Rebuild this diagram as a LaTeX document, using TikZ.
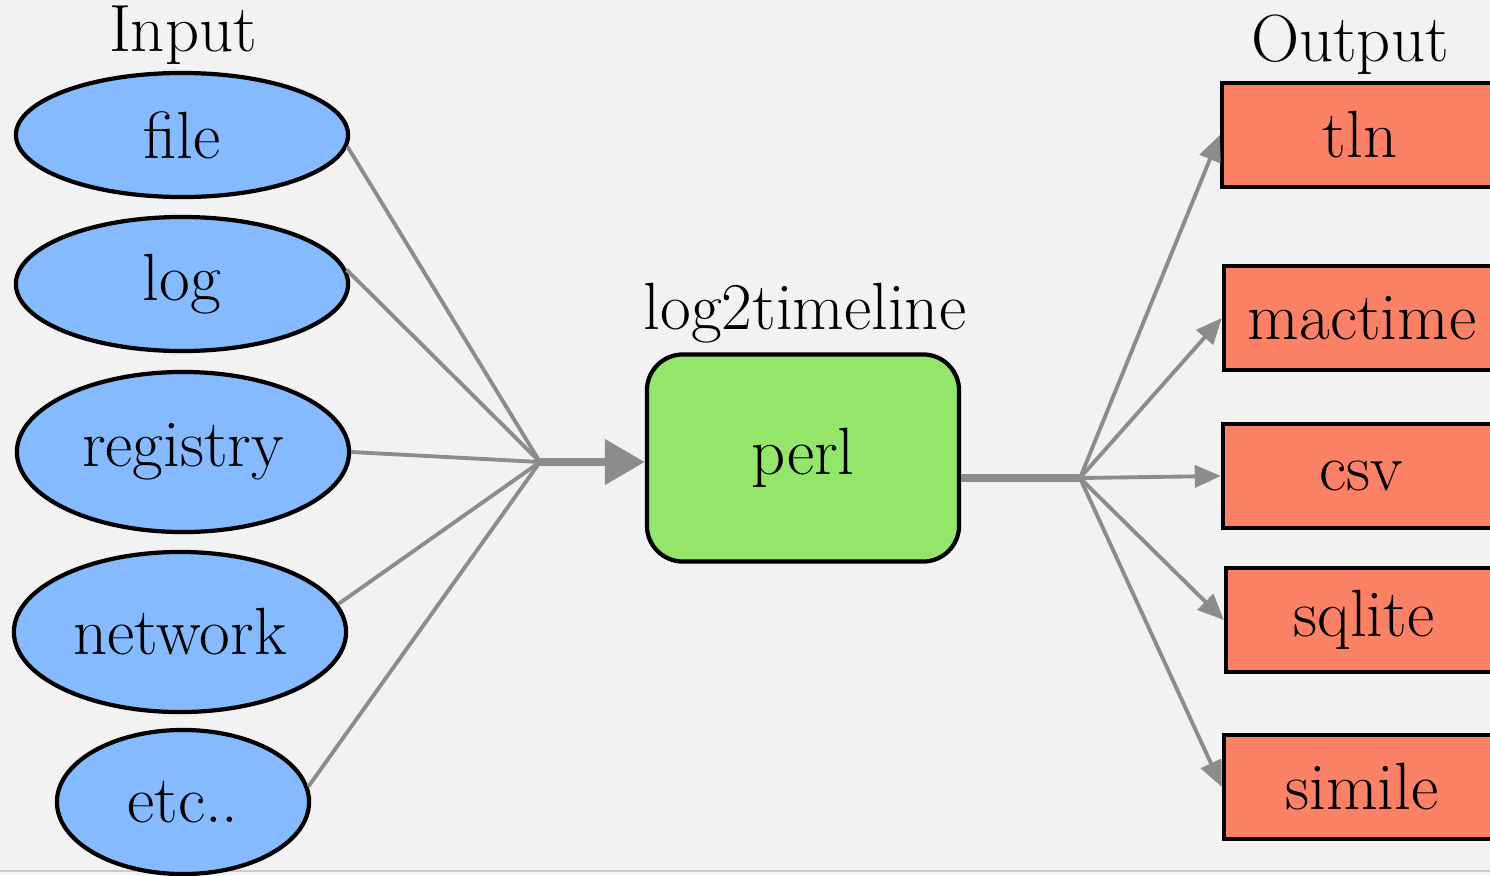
\documentclass[tikz,border=0pt]{standalone}
\usetikzlibrary{shapes.geometric,arrows.meta}
\definecolor{inblue}{RGB}{133,186,255}
\definecolor{outred}{RGB}{250,128,102}
\definecolor{perlgreen}{RGB}{148,230,107}
\definecolor{linegray}{RGB}{140,140,140}
\definecolor{backgray}{RGB}{242,242,242}

\begin{document}
\begin{tikzpicture}[x=0.01cm,y=-0.01cm]
	\tikzstyle{every node}=[font=\fontsize{19}{21}\selectfont]
	\tikzstyle{source}=[ellipse, draw=black, line width=1.2pt, fill=inblue, inner sep=0pt]
	\tikzstyle{target}=[rectangle, draw=black, line width=1.2pt, fill=outred, inner sep=0pt, minimum width=2.76cm, minimum height=1.04cm]
	\tikzstyle{feed}=[draw=linegray, line width=1.1pt]
	\tikzstyle{fan}=[draw=linegray, line width=1.1pt, -{Triangle[length=0.26cm,width=0.22cm]}]
	
	\fill [backgray] (0,0) rectangle (1490,875);
	\useasboundingbox (0,0) rectangle (1490,875);
	\clip (0,0) rectangle (1490,875);
	\draw [black!20, line width=0.6pt] (0,871) -- (1490,871);
	
	\begin{scope}
	\node at (183,35) (inlabel) {Input};
	\node [source, minimum width=3.32cm, minimum height=1.24cm] at (182,135) (file) {file};
	\node [source, minimum width=3.32cm, minimum height=1.34cm] at (182,284) (log) {log};
	\node [source, minimum width=3.32cm, minimum height=1.6cm] at (183,452) (registry) {registry};
	\node [source, minimum width=3.32cm, minimum height=1.6cm] at (180,632) (network) {network};
	\node [source, minimum width=2.52cm, minimum height=1.44cm] at (183,802) (etc) {etc..};
	\end{scope}
	
	\node at (805,313) (toollabel) {log2timeline};
	\node [draw=black, line width=1.2pt, fill=perlgreen, rounded corners=0.36cm, minimum width=3.12cm, minimum height=2.07cm] at (803,458) (perl) {perl};
	
	\begin{scope}
	\node at (1350,45) (outlabel) {Output};
	\node [target] at (1360,135) (tln) {tln};
	\node [target] at (1362,318) (mactime) {mactime};
	\node [target] at (1361,476) (csv) {csv};
	\node [target] at (1364,620) (sqlite) {sqlite};
	\node [target] at (1362,787) (simile) {simile};
	\end{scope}
	
	\coordinate (jin) at (540,462);
	\coordinate (jout) at (1080,478);
	
	\draw [feed] (file.-4) -- (jin);
	\draw [feed] (log.5) -- (jin);
	\draw [feed] (registry.east) -- (jin);
	\draw [feed] (network.10) -- (jin);
	\draw [feed] (etc.7) -- (jin);
	\draw [draw=linegray, line width=2.3pt, -{Triangle[length=0.4cm,width=0.44cm]}] (jin) -- (jin -| perl.west);
	
	\draw [draw=linegray, line width=2.3pt] (perl.east |- jout) -- (jout);
	\draw [fan] (jout) -- (tln.west);
	\draw [fan] (jout) -- (mactime.west);
	\draw [fan] (jout) -- (csv.west);
	\draw [fan] (jout) -- (sqlite.west);
	\draw [fan] (jout) -- (simile.west);
	
\end{tikzpicture}
\end{document}
